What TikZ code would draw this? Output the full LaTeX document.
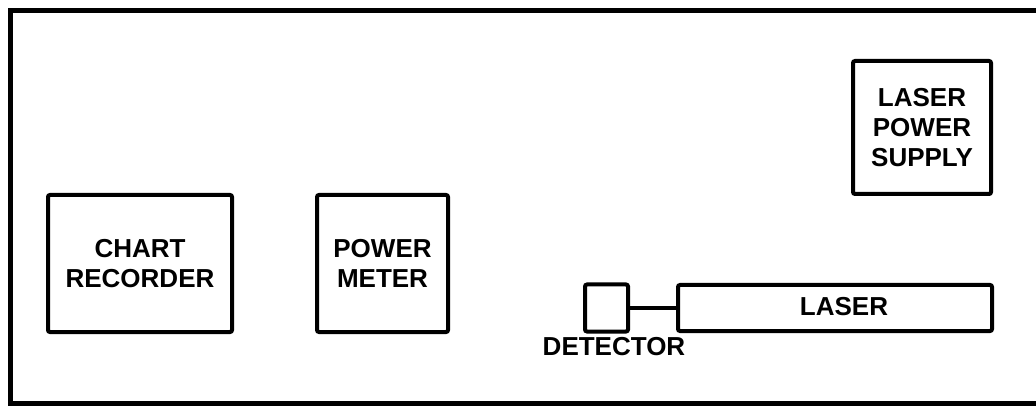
\documentclass[tikz,border=0pt]{standalone}
\usepackage{fontspec}
\setmainfont{Liberation Sans}
\begin{document}
\begin{tikzpicture}[x=0.75pt,y=-0.75pt,
  box/.style={draw=black, line width=3pt, rounded corners=1.5pt, inner sep=0pt, align=center,
    font=\bfseries\fontsize{19.5}{22.5}\selectfont},
  lbl/.style={inner sep=0pt, font=\bfseries\fontsize{19.5}{22.5}\selectfont},
  wire/.style={draw=black, line width=3pt}]
\useasboundingbox (0,0) rectangle (1036,406);
\clip (0,0) rectangle (1036,406);
\fill[white] (0,0) rectangle (1036,406);
% outer frame (right side runs off the picture)
\draw[line width=3.75pt] (1050,11) -- (10,11) -- (10,403.5) -- (1050,403.5);
\node[box, minimum width=138pt, minimum height=102.75pt] (chart) at (140,263.5) {CHART\\RECORDER};
\node[box, minimum width=98.25pt, minimum height=102.75pt] (pm) at (382.5,263.5) {POWER\\METER};
\node[box, minimum width=103.5pt, minimum height=99.75pt] (lps) at (922,127.5) {LASER\\POWER\\SUPPLY};
\node[box, minimum width=32.25pt, minimum height=35.25pt] (det) at (606.5,308) {};
\node[box, minimum width=235.5pt, minimum height=34.5pt] (laser) at (835,308) {};
\node[lbl] (lasertext) at (844,307) {LASER};
\node[lbl] (dettext) at (614,347) {DETECTOR};
\draw[wire] (det.east) -- (det.east -| laser.west);
\end{tikzpicture}
\end{document}
